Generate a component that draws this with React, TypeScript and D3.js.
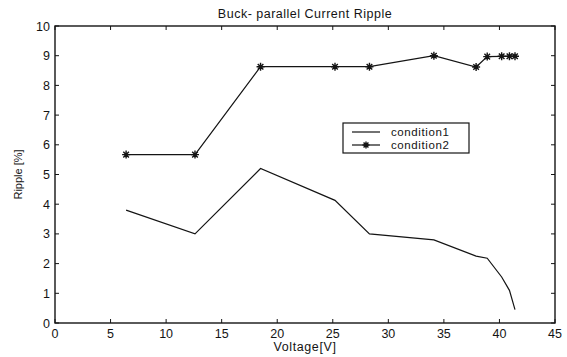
import React, { useEffect, useRef } from 'react';
import * as d3 from 'd3';

const voltage = [6.4, 12.6, 18.5, 25.2, 28.3, 34.1, 37.9, 38.9, 40.2, 40.9, 41.4];
const condition1 = [3.8, 3.0, 5.2, 4.13, 3.0, 2.8, 2.25, 2.18, 1.55, 1.1, 0.45];
const condition2 = [5.67, 5.67, 8.63, 8.63, 8.63, 9.0, 8.62, 8.97, 8.98, 8.98, 8.98];
const xTicks = [0, 5, 10, 15, 20, 25, 30, 35, 40, 45];
const yTicks = [0, 1, 2, 3, 4, 5, 6, 7, 8, 9, 10];
const seriesNames = ['condition1', 'condition2'];

const W = 567;
const H = 357;
const margin = { left: 55, right: 12, top: 26, bottom: 34 };

const App = () => {
  const ref = useRef<SVGSVGElement>(null);

  useEffect(() => {
    const svg = d3.select(ref.current);
    svg.selectAll('*').remove();

    const x = d3.scaleLinear().domain([0, 45]).range([margin.left, W - margin.right]);
    const y = d3.scaleLinear().domain([0, 10]).range([H - margin.bottom, margin.top]);
    const ink = '#141414';
    const font = '"Liberation Sans", Arial, sans-serif';

    // box
    svg.append('rect')
      .attr('x', x(0)).attr('y', y(10))
      .attr('width', x(45) - x(0)).attr('height', y(0) - y(10))
      .attr('fill', 'none').attr('stroke', ink).attr('stroke-width', 1.4);

    // ticks on all four sides, pointing inward
    const tl = 4;
    xTicks.forEach(t => {
      svg.append('line').attr('x1', x(t)).attr('x2', x(t)).attr('y1', y(0)).attr('y2', y(0) - tl).attr('stroke', ink);
      svg.append('line').attr('x1', x(t)).attr('x2', x(t)).attr('y1', y(10)).attr('y2', y(10) + tl).attr('stroke', ink);
      svg.append('text').attr('x', x(t)).attr('y', y(0) + 15)
        .attr('text-anchor', 'middle').attr('font-family', font).attr('font-size', 12.5)
        .attr('fill', ink).text(t);
    });
    yTicks.forEach(t => {
      svg.append('line').attr('x1', x(0)).attr('x2', x(0) + tl).attr('y1', y(t)).attr('y2', y(t)).attr('stroke', ink);
      svg.append('line').attr('x1', x(45)).attr('x2', x(45) - tl).attr('y1', y(t)).attr('y2', y(t)).attr('stroke', ink);
      svg.append('text').attr('x', x(0) - 5).attr('y', y(t)).attr('dy', '0.36em')
        .attr('text-anchor', 'end').attr('font-family', font).attr('font-size', 12.5)
        .attr('fill', ink).text(t);
    });

    // title and labels
    svg.append('text').attr('x', (x(0) + x(45)) / 2).attr('y', 18)
      .attr('text-anchor', 'middle').attr('font-family', font).attr('font-size', 12.5)
      .attr('letter-spacing', 0.5).attr('fill', ink).text('Buck- parallel Current Ripple');
    svg.append('text').attr('x', (x(0) + x(45)) / 2).attr('y', 351)
      .attr('text-anchor', 'middle').attr('font-family', font).attr('font-size', 12.5)
      .attr('letter-spacing', 0.6).attr('fill', ink).text('Voltage[V]');
    svg.append('text')
      .attr('transform', `translate(22,${(y(0) + y(10)) / 2}) rotate(-90)`)
      .attr('text-anchor', 'middle').attr('font-family', font).attr('font-size', 11)
      .attr('fill', ink).text('Ripple [%]');

    const line = d3.line<number>().x((_, i) => x(voltage[i])).y(d => y(d));

    svg.append('path').datum(condition1).attr('d', line)
      .attr('fill', 'none').attr('stroke', ink).attr('stroke-width', 1.2);
    svg.append('path').datum(condition2).attr('d', line)
      .attr('fill', 'none').attr('stroke', ink).attr('stroke-width', 1.2);

    const star = (g: any, cx: number, cy: number, r: number) => {
      const p = d3.path();
      p.moveTo(cx - r, cy); p.lineTo(cx + r, cy);
      p.moveTo(cx, cy - r); p.lineTo(cx, cy + r);
      const k = r * 0.7;
      p.moveTo(cx - k, cy - k); p.lineTo(cx + k, cy + k);
      p.moveTo(cx - k, cy + k); p.lineTo(cx + k, cy - k);
      g.append('path').attr('d', p.toString()).attr('stroke', ink).attr('stroke-width', 1.4).attr('fill', 'none');
    };
    condition2.forEach((v, i) => star(svg, x(voltage[i]), y(v), 4));

    // legend
    const lg = svg.append('g');
    lg.append('rect').attr('x', 343).attr('y', 123).attr('width', 126).attr('height', 30)
      .attr('fill', 'white').attr('stroke', ink).attr('stroke-width', 1.2);
    seriesNames.forEach((name, i) => {
      const ly = 132 + i * 13;
      lg.append('line').attr('x1', 352).attr('x2', 380).attr('y1', ly).attr('y2', ly)
        .attr('stroke', ink).attr('stroke-width', 1.2);
      if (i === 1) star(lg, 366, ly, 3.5);
      lg.append('text').attr('x', 391).attr('y', ly).attr('dy', '0.34em')
        .attr('font-family', font).attr('font-size', 11.5).attr('letter-spacing', 0.6)
        .attr('fill', ink).text(name);
    });
  }, []);

  return (
    <svg ref={ref} width={W} height={H}
      style={{ position: 'absolute', left: 0, top: 0, background: 'white' }} />
  );
};

export default App;
